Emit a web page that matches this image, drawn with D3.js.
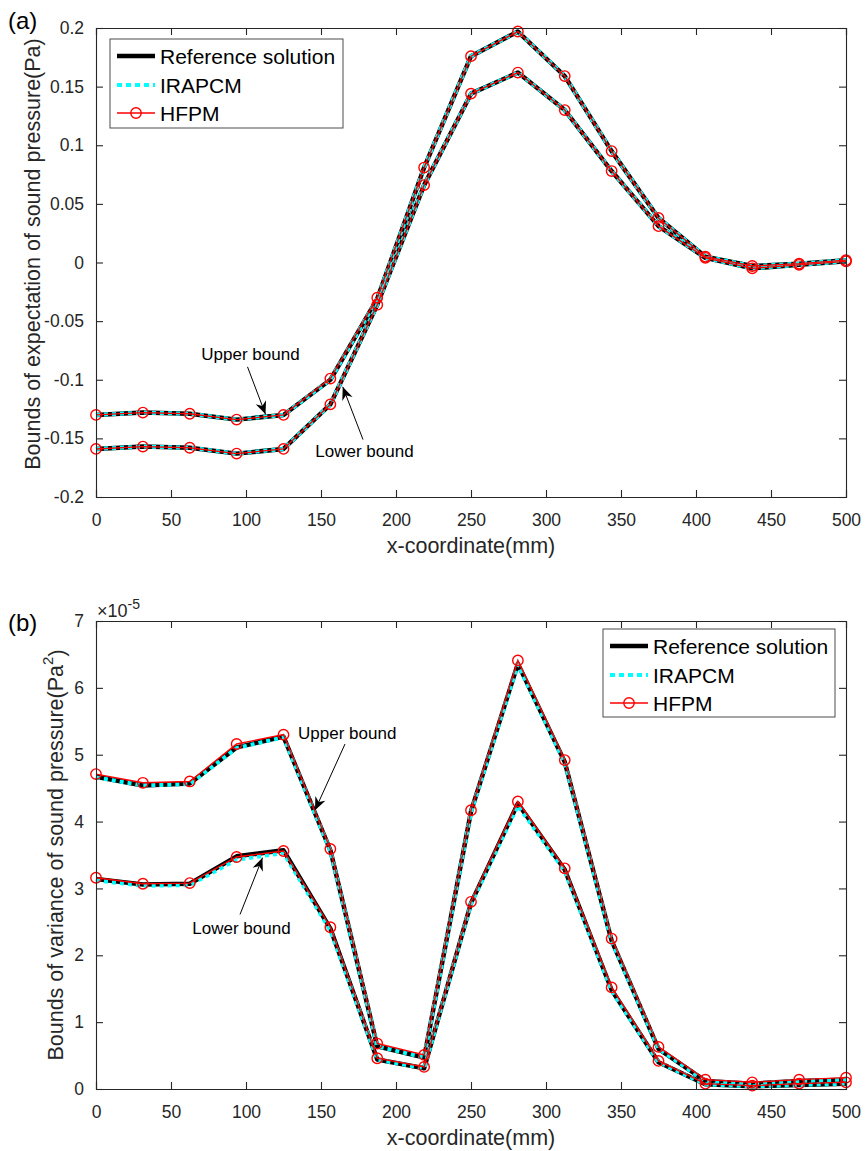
<!DOCTYPE html>
<html><head><meta charset="utf-8">
<script src="https://cdn.jsdelivr.net/npm/d3@7"></script>
<style>
html,body{margin:0;padding:0;background:#fff;}
svg text{font-family:"Liberation Sans",Arial,sans-serif;fill:#262626;}
</style></head>
<body><svg id="fig" width="867" height="1151"></svg>
<script>
// ---------------- data ----------------
const xCoords = [0,31.25,62.5,93.75,125,156.25,187.5,218.75,250,281.25,312.5,343.75,375,406.25,437.5,468.75,500];

// (a) expectation bounds (Pa)
const refUpperA   = [-0.130,-0.128,-0.129,-0.134,-0.130,-0.100,-0.031,0.081,0.176,0.197,0.159,0.095,0.038,0.005,-0.003,-0.001,0.002];
const irapUpperA  = [-0.130,-0.128,-0.129,-0.134,-0.130,-0.100,-0.031,0.081,0.176,0.197,0.159,0.095,0.038,0.005,-0.003,-0.001,0.002];
const hfpmUpperA  = [-0.130,-0.128,-0.129,-0.134,-0.130,-0.099,-0.030,0.081,0.176,0.197,0.159,0.095,0.038,0.005,-0.003,-0.001,0.002];
const refLowerA   = [-0.159,-0.157,-0.158,-0.163,-0.159,-0.121,-0.036,0.066,0.144,0.162,0.130,0.078,0.031,0.004,-0.005,-0.002,0.001];
const irapLowerA  = [-0.159,-0.157,-0.158,-0.163,-0.159,-0.121,-0.036,0.066,0.144,0.162,0.130,0.078,0.031,0.004,-0.005,-0.002,0.001];
const hfpmLowerA  = [-0.159,-0.157,-0.158,-0.163,-0.159,-0.121,-0.036,0.066,0.144,0.162,0.130,0.078,0.031,0.004,-0.005,-0.002,0.001];

// (b) variance bounds (x1e-5 Pa^2)
const refUpperB   = [4.67,4.54,4.57,5.11,5.27,3.57,0.64,0.47,4.15,6.36,4.89,2.22,0.60,0.12,0.08,0.12,0.14];
const irapUpperB  = [4.66,4.54,4.56,5.10,5.26,3.56,0.64,0.47,4.14,6.35,4.88,2.21,0.60,0.12,0.08,0.12,0.14];
const hfpmUpperB  = [4.71,4.58,4.60,5.16,5.30,3.59,0.68,0.51,4.17,6.41,4.92,2.25,0.63,0.14,0.10,0.14,0.17];
const refLowerB   = [3.14,3.06,3.07,3.48,3.57,2.40,0.44,0.31,2.78,4.27,3.28,1.48,0.40,0.07,0.04,0.06,0.08];
const irapLowerB  = [3.12,3.04,3.05,3.43,3.53,2.37,0.44,0.31,2.77,4.24,3.26,1.47,0.40,0.07,0.04,0.06,0.08];
const hfpmLowerB  = [3.16,3.07,3.08,3.47,3.56,2.42,0.46,0.33,2.80,4.30,3.30,1.52,0.42,0.08,0.05,0.08,0.10];

const xTicks  = [0,50,100,150,200,250,300,350,400,450,500];
const yTicksA = [-0.2,-0.15,-0.1,-0.05,0,0.05,0.1,0.15,0.2];
const yTickLabelsA = ["-0.2","-0.15","-0.1","-0.05","0","0.05","0.1","0.15","0.2"];
const yTicksB = [0,1,2,3,4,5,6,7];
const legendNames = ["Reference solution","IRAPCM","HFPM"];

// annotations (data coordinates)
const annA = [
  {text:"Upper bound", tx:103, ty:-0.0785, x1:101, y1:-0.089, x2:113, y2:-0.1295},
  {text:"Lower bound", tx:179, ty:-0.161,  x1:178, y1:-0.151, x2:164.5, y2:-0.106}
];
const annB = [
  {text:"Upper bound", tx:167.5, ty:5.31, x1:166, y1:5.16, x2:146, y2:4.17},
  {text:"Lower bound", tx:97,    ty:2.40, x1:96,  y1:2.61, x2:111, y2:3.46}
];

// ---------------- drawing ----------------
const svg = d3.select("#fig");
const AX = "#262626";

function arrow(g, x1,y1,x2,y2){
  g.append("line").attr("x1",x1).attr("y1",y1).attr("x2",x2).attr("y2",y2)
   .attr("stroke","#000").attr("stroke-width",1);
  const ang = Math.atan2(y2-y1,x2-x1);
  const L=13, W=5.5, back=9;
  const ux=Math.cos(ang), uy=Math.sin(ang), px=-uy, py=ux;
  const pts = [
    [x2,y2],
    [x2-L*ux+W*px, y2-L*uy+W*py],
    [x2-back*ux, y2-back*uy],
    [x2-L*ux-W*px, y2-L*uy-W*py]
  ];
  g.append("path").attr("d","M"+pts.map(p=>p.join(",")).join("L")+"Z").attr("fill","#000");
}

function panel(opt){
  const {left,right,top,bottom,ydom,yticks,yfmt,series,ann,legend} = opt;
  const x = d3.scaleLinear().domain([0,500]).range([left,right]);
  const y = d3.scaleLinear().domain(ydom).range([bottom,top]);
  const g = svg.append("g");
  g.append("rect").attr("x",left).attr("y",top).attr("width",right-left).attr("height",bottom-top).attr("fill","#fff");

  const line = d3.line().x((d,i)=>x(xCoords[i])).y(d=>y(d));
  const dg = g.append("g");
  series.forEach(s=>{
    dg.append("path").attr("d",line(s.ref)).attr("fill","none").attr("stroke","#000").attr("stroke-width",4.5).attr("stroke-linejoin","round");
  });
  series.forEach(s=>{
    dg.append("path").attr("d",line(s.irap)).attr("fill","none").attr("stroke","#00ffff").attr("stroke-width",4).attr("stroke-dasharray","4,4");
  });
  series.forEach(s=>{
    dg.append("path").attr("d",line(s.hfpm)).attr("fill","none").attr("stroke","#ff0000").attr("stroke-width",1.4);
    dg.selectAll(null).data(s.hfpm).enter().append("circle")
      .attr("cx",(d,i)=>x(xCoords[i])).attr("cy",d=>y(d)).attr("r",5.2)
      .attr("fill","none").attr("stroke","#ff0000").attr("stroke-width",1.4);
  });

  const tl = 7;
  const ab = d3.axisBottom(x).tickValues(xTicks).tickSize(-tl).tickPadding(12).tickFormat(d3.format("d"));
  const gb = g.append("g").attr("transform",`translate(0,${bottom})`).call(ab);
  const at = d3.axisTop(x).tickValues(xTicks).tickSize(-tl).tickFormat("");
  const gt = g.append("g").attr("transform",`translate(0,${top})`).call(at);
  const al = d3.axisLeft(y).tickValues(yticks).tickSize(-tl).tickPadding(12).tickFormat(yfmt);
  const gl = g.append("g").attr("transform",`translate(${left},0)`).call(al);
  const ar = d3.axisRight(y).tickValues(yticks).tickSize(-tl).tickFormat("");
  const gr = g.append("g").attr("transform",`translate(${right},0)`).call(ar);
  [gb,gt,gl,gr].forEach(a=>{
    a.selectAll(".domain").attr("stroke",AX).attr("stroke-width",1.1);
    a.selectAll(".tick line").attr("stroke",AX).attr("stroke-width",1.1);
    a.selectAll(".tick text").attr("font-size",17.5).attr("fill",AX).style("font-family","'Liberation Sans',Arial,sans-serif");
  });
  gb.selectAll(".tick text").attr("dy","0.95em");

  ann.forEach(a=>{
    g.append("text").attr("x",x(a.tx)).attr("y",y(a.ty)).attr("text-anchor","middle")
      .attr("dominant-baseline","central").attr("font-size",17).style("fill","#000").text(a.text);
    arrow(g, x(a.x1),y(a.y1),x(a.x2),y(a.y2));
  });

  const lg = g.append("g");
  lg.append("rect").attr("x",legend.x).attr("y",legend.y).attr("width",legend.w).attr("height",legend.h)
    .attr("fill","#fff").attr("stroke","#4d4d4d").attr("stroke-width",1);
  const rows = [legend.y+17, legend.y+46, legend.y+74];
  const lx1 = legend.x+7, lx2 = legend.x+45;
  lg.append("line").attr("x1",lx1).attr("x2",lx2).attr("y1",rows[0]).attr("y2",rows[0]).attr("stroke","#000").attr("stroke-width",4.5);
  lg.append("line").attr("x1",lx1).attr("x2",lx2).attr("y1",rows[1]).attr("y2",rows[1]).attr("stroke","#00ffff").attr("stroke-width",4).attr("stroke-dasharray","5,4");
  lg.append("line").attr("x1",lx1).attr("x2",lx2).attr("y1",rows[2]).attr("y2",rows[2]).attr("stroke","#ff0000").attr("stroke-width",1.4);
  lg.append("circle").attr("cx",(lx1+lx2)/2).attr("cy",rows[2]).attr("r",5.2).attr("fill","none").attr("stroke","#ff0000").attr("stroke-width",1.4);
  legendNames.forEach((n,i)=>{
    lg.append("text").attr("x",legend.x+50).attr("y",rows[i]).attr("dominant-baseline","central")
      .attr("font-size",21).style("fill","#000").text(n);
  });
  return {x,y,g};
}

// Panel (a)
panel({left:96,right:846,top:28,bottom:497,ydom:[-0.2,0.2],yticks:yTicksA,
  yfmt:(d)=>yTickLabelsA[yTicksA.indexOf(d)],
  series:[{ref:refUpperA,irap:irapUpperA,hfpm:hfpmUpperA},{ref:refLowerA,irap:irapLowerA,hfpm:hfpmLowerA}],
  ann:annA, legend:{x:110,y:39,w:233,h:89}});
svg.append("text").attr("x",471).attr("y",546).attr("text-anchor","middle").attr("dominant-baseline","central")
  .attr("font-size",21.5).text("x-coordinate(mm)");
svg.append("text").attr("transform","translate(33,254) rotate(-90)").attr("text-anchor","middle").attr("dominant-baseline","central")
  .attr("font-size",21.5).text("Bounds of expectation of sound pressure(Pa)");
svg.append("text").attr("x",8).attr("y",20).attr("dominant-baseline","central").attr("font-size",24).style("fill","#000").text("(a)");

// Panel (b)
panel({left:96,right:846,top:621,bottom:1089,ydom:[0,7],yticks:yTicksB,
  yfmt:d3.format("d"),
  series:[{ref:refUpperB,irap:irapUpperB,hfpm:hfpmUpperB},{ref:refLowerB,irap:irapLowerB,hfpm:hfpmLowerB}],
  ann:annB, legend:{x:603,y:629,w:232,h:88}});
svg.append("text").attr("x",471).attr("y",1138).attr("text-anchor","middle").attr("dominant-baseline","central")
  .attr("font-size",21.5).text("x-coordinate(mm)");
const yl = svg.append("text").attr("transform","translate(56,855) rotate(-90)").attr("text-anchor","middle").attr("dominant-baseline","central")
  .attr("font-size",21.5);
yl.append("tspan").text("Bounds of variance of sound pressure(Pa");
yl.append("tspan").attr("font-size",15).attr("dy","-0.6em").text("2");
yl.append("tspan").attr("dy","0.45em").text(")");
svg.append("text").attr("x",8).attr("y",622).attr("dominant-baseline","central").attr("font-size",24).style("fill","#000").text("(b)");
const ex = svg.append("text").attr("x",97).attr("y",617).attr("font-size",18);
ex.append("tspan").text("\u00d710");
ex.append("tspan").attr("font-size",14).attr("dy","-0.6em").text("-5");
</script></body></html>
